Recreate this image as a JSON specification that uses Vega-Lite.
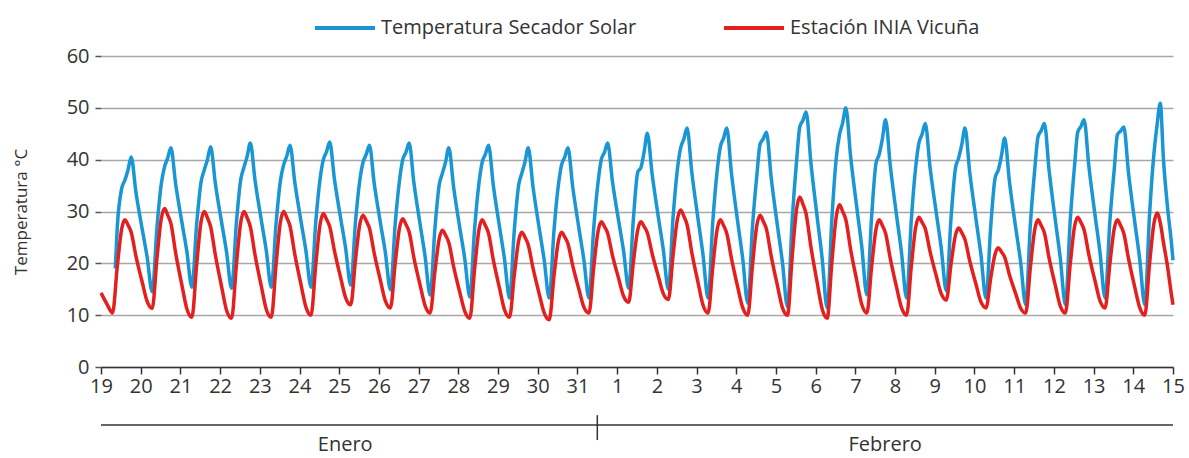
{
"$schema": "https://vega.github.io/schema/vega-lite/v6.json",
"width": 1072, "height": 311,
"autosize": "none",
"padding": {"left": 101, "top": 56, "right": 16, "bottom": 91},
"background": "white",
"config": {"view": {"stroke": null}, "font": "Open Sans",
  "axisX": {"grid": false, "domainColor": "#333333", "domainWidth": 1.5, "tickColor": "#333333", "tickSize": 7, "tickWidth": 1.5,
    "labelFontSize": 20, "labelColor": "#333333", "labelPadding": 2, "labelFlush": false, "labelOverlap": false, "labelFont": "Open Sans"},
  "axisY": {"grid": true, "gridColor": "#a8a8a8", "gridWidth": 1.5, "domain": false,
    "tickSize": 6, "tickColor": "#555555", "tickWidth": 1.5, "labelFontSize": 20, "labelColor": "#333333", "labelPadding": 6, "labelFont": "Open Sans",
    "titleFontSize": 17, "titleColor": "#333333", "titleFontWeight": "normal", "titlePadding": 36, "titleFont": "Open Sans"}},
"data": {"values": [
{"t":0,"r":14.3},{"t":0.16,"r":12.0},{"t":0.29,"r":10.4},{"t":0.36,"s":19},
{"t":0.41,"s":27.0,"r":19.4},{"t":0.52,"s":34.4,"r":26.6},{"t":0.6,"s":36,"r":28.4},{"t":0.68,"s":38.0,"r":27.4},{"t":0.76,"s":40.5,"r":26.0},{"t":0.88,"s":33.7,"r":21.4},
{"t":1.04,"s":26.5,"r":16.3},{"t":1.16,"s":21.3,"r":12.7},{"t":1.29,"s":14.5,"r":11.3},{"t":1.41,"s":27.0,"r":21.0},{"t":1.52,"s":35.4,"r":28.7},{"t":1.6,"s":38.6,"r":30.6},{"t":1.68,"s":40.3,"r":29.3},{"t":1.76,"s":42.3,"r":27.7},{"t":1.88,"s":35.3,"r":22.0},
{"t":2.04,"s":27.8,"r":15.7},{"t":2.16,"s":22.4,"r":11.3},{"t":2.29,"s":15.4,"r":9.6},{"t":2.41,"s":27.6,"r":19.8},{"t":2.52,"s":35.7,"r":28.0},{"t":2.6,"s":38.0,"r":30.0},{"t":2.68,"s":40.0,"r":28.8},{"t":2.76,"s":42.5,"r":27.1},{"t":2.88,"s":35.4,"r":21.6},
{"t":3.04,"s":27.8,"r":15.4},{"t":3.16,"s":22.3,"r":11.0},{"t":3.29,"s":15.2,"r":9.4},{"t":3.41,"s":27.8,"r":19.7},{"t":3.52,"s":36.2,"r":27.9},{"t":3.6,"s":38.5,"r":30.0},{"t":3.68,"s":40.6,"r":28.8},{"t":3.76,"s":43.2,"r":27.1},{"t":3.88,"s":36.0,"r":21.6},
{"t":4.04,"s":28.2,"r":15.5},{"t":4.16,"s":22.6,"r":11.2},{"t":4.29,"s":15.4,"r":9.6},{"t":4.41,"s":27.7,"r":19.8},{"t":4.52,"s":36.0,"r":28.0},{"t":4.6,"s":39.0,"r":30.0},{"t":4.68,"s":40.7,"r":28.8},{"t":4.76,"s":42.8,"r":27.2},{"t":4.88,"s":35.7,"r":21.8},
{"t":5.04,"s":28.0,"r":15.8},{"t":5.16,"s":22.5,"r":11.6},{"t":5.29,"s":15.4,"r":10.0},{"t":5.41,"s":28.0,"r":19.8},{"t":5.52,"s":36.4,"r":27.6},{"t":5.6,"s":40.0,"r":29.6},{"t":5.68,"s":41.5,"r":28.5},{"t":5.76,"s":43.4,"r":27.1},{"t":5.88,"s":36.2,"r":22.4},
{"t":6.04,"s":28.5,"r":17.1},{"t":6.16,"s":23.0,"r":13.4},{"t":6.29,"s":15.8,"r":12.0},{"t":6.41,"s":28.0,"r":20.7},{"t":6.52,"s":36.1,"r":27.6},{"t":6.6,"s":39.5,"r":29.3},{"t":6.68,"s":41.0,"r":28.2},{"t":6.76,"s":42.8,"r":26.8},{"t":6.88,"s":35.5,"r":22.0},
{"t":7.04,"s":27.7,"r":16.6},{"t":7.16,"s":22.2,"r":12.8},{"t":7.29,"s":14.9,"r":11.4},{"t":7.41,"s":27.6,"r":20.0},{"t":7.52,"s":36.1,"r":26.9},{"t":7.6,"s":40.0,"r":28.6},{"t":7.68,"s":41.4,"r":27.5},{"t":7.76,"s":43.2,"r":26.1},{"t":7.88,"s":35.6,"r":21.1},
{"t":8.04,"s":27.4,"r":15.7},{"t":8.16,"s":21.5,"r":11.9},{"t":8.29,"s":13.9,"r":10.4},{"t":8.41,"s":26.7,"r":18.4},{"t":8.52,"s":35.2,"r":24.8},{"t":8.6,"s":37.4,"r":26.4},{"t":8.68,"s":39.6,"r":25.4},{"t":8.76,"s":42.3,"r":24.0},{"t":8.88,"s":34.8,"r":19.4},
{"t":9.04,"s":26.7,"r":14.3},{"t":9.16,"s":21.0,"r":10.8},{"t":9.29,"s":13.5,"r":9.4},{"t":9.41,"s":26.7,"r":18.9},{"t":9.52,"s":35.5,"r":26.5},{"t":9.6,"s":39.5,"r":28.4},{"t":9.68,"s":41.0,"r":27.3},{"t":9.76,"s":42.8,"r":25.8},{"t":9.88,"s":35.1,"r":20.7},
{"t":10.04,"s":26.9,"r":15.1},{"t":10.16,"s":21.0,"r":11.1},{"t":10.29,"s":13.3,"r":9.6},{"t":10.41,"s":26.4,"r":17.8},{"t":10.52,"s":35.1,"r":24.4},{"t":10.6,"s":37.4,"r":26.0},{"t":10.68,"s":39.6,"r":25.0},{"t":10.76,"s":42.3,"r":23.6},{"t":10.88,"s":34.8,"r":19.1},
{"t":11.04,"s":26.6,"r":14.0},{"t":11.16,"s":20.8,"r":10.5},{"t":11.29,"s":13.3,"r":9.1},{"t":11.41,"s":26.4,"r":17.6},{"t":11.52,"s":35.1,"r":24.3},{"t":11.6,"s":39.0,"r":26.0},{"t":11.68,"s":40.5,"r":25.1},{"t":11.76,"s":42.3,"r":23.8},{"t":11.88,"s":34.8,"r":19.6},
{"t":12.04,"s":26.6,"r":14.9},{"t":12.16,"s":20.8,"r":11.6},{"t":12.29,"s":13.3,"r":10.4},{"t":12.41,"s":26.8,"r":19.2},{"t":12.52,"s":35.7,"r":26.2},{"t":12.6,"s":40.0,"r":28.0},{"t":12.68,"s":41.4,"r":27.1},{"t":12.76,"s":43.2,"r":25.8},{"t":12.88,"s":35.9,"r":21.6},
{"t":13.04,"s":28.1,"r":17.0},{"t":13.16,"s":22.5,"r":13.7},{"t":13.29,"s":15.2,"r":12.5},{"t":13.41,"s":28.7,"r":20.3},{"t":13.52,"s":37.6,"r":26.5},{"t":13.6,"s":38.5,"r":28.0},{"t":13.68,"s":41.5,"r":27.1},{"t":13.76,"s":45.1,"r":25.9},{"t":13.88,"s":37.3,"r":21.9},
{"t":14.04,"s":28.8,"r":17.4},{"t":14.16,"s":22.8,"r":14.2},{"t":14.29,"s":15.0,"r":13.0},{"t":14.41,"s":29.0,"r":21.7},{"t":14.52,"s":38.3,"r":28.6},{"t":14.6,"s":42.3,"r":30.3},{"t":14.68,"s":44.0,"r":29.1},{"t":14.76,"s":46.1,"r":27.5},{"t":14.88,"s":37.6,"r":22.1},
{"t":15.04,"s":28.4,"r":16.2},{"t":15.16,"s":21.8,"r":12.0},{"t":15.29,"s":13.3,"r":10.4},{"t":15.41,"s":28.1,"r":19.4},{"t":15.52,"s":37.9,"r":26.6},{"t":15.6,"s":42.5,"r":28.4},{"t":15.68,"s":44.1,"r":27.3},{"t":15.76,"s":46.1,"r":25.8},{"t":15.88,"s":37.3,"r":20.9},
{"t":16.04,"s":27.8,"r":15.3},{"t":16.16,"s":21.1,"r":11.5},{"t":16.29,"s":12.3,"r":10.0},{"t":16.41,"s":27.2,"r":19.7},{"t":16.52,"s":37.1,"r":27.4},{"t":16.6,"s":43.0,"r":29.3},{"t":16.68,"s":44.0,"r":28.1},{"t":16.76,"s":45.3,"r":26.6},{"t":16.88,"s":36.5,"r":21.4},
{"t":17.04,"s":27.1,"r":15.6},{"t":17.16,"s":20.4,"r":11.5},{"t":17.29,"s":11.6,"r":10.0},{"t":17.41,"s":28.5,"r":21.4},{"t":17.52,"s":39.8,"r":30.5},{"t":17.6,"s":46.3,"r":32.8},{"t":17.68,"s":47.6,"r":31.4},{"t":17.76,"s":49.2,"r":29.5},{"t":17.88,"s":39.4,"r":23.2},
{"t":18.04,"s":28.8,"r":16.2},{"t":18.16,"s":21.2,"r":11.3},{"t":18.29,"s":11.4,"r":9.4},{"t":18.41,"s":28.8,"r":20.4},{"t":18.52,"s":40.4,"r":29.1},{"t":18.6,"s":44.8,"r":31.3},{"t":18.68,"s":47.1,"r":30.0},{"t":18.76,"s":50.0,"r":28.4},{"t":18.88,"s":40.6,"r":22.7},
{"t":19.04,"s":30.5,"r":16.5},{"t":19.16,"s":23.3,"r":12.1},{"t":19.29,"s":13.9,"r":10.4},{"t":19.41,"s":29.1,"r":19.4},{"t":19.52,"s":39.3,"r":26.6},{"t":19.6,"s":41.0,"r":28.4},{"t":19.68,"s":44.0,"r":27.3},{"t":19.76,"s":47.7,"r":25.8},{"t":19.88,"s":38.8,"r":20.9},
{"t":20.04,"s":29.1,"r":15.3},{"t":20.16,"s":22.2,"r":11.5},{"t":20.29,"s":13.3,"r":10.0},{"t":20.41,"s":28.5,"r":19.5},{"t":20.52,"s":38.6,"r":27.0},{"t":20.6,"s":43.2,"r":28.9},{"t":20.68,"s":44.9,"r":27.9},{"t":20.76,"s":47.0,"r":26.7},{"t":20.88,"s":38.6,"r":22.3},
{"t":21.04,"s":29.6,"r":17.5},{"t":21.16,"s":23.1,"r":14.2},{"t":21.29,"s":14.7,"r":12.9},{"t":21.41,"s":28.8,"r":19.9},{"t":21.52,"s":38.3,"r":25.4},{"t":21.6,"s":40.3,"r":26.8},{"t":21.68,"s":42.9,"r":25.9},{"t":21.76,"s":46.1,"r":24.6},{"t":21.88,"s":37.6,"r":20.5},
{"t":22.04,"s":28.4,"r":15.9},{"t":22.16,"s":21.8,"r":12.6},{"t":22.29,"s":13.3,"r":11.4},{"t":22.41,"s":27.2,"r":17.2},{"t":22.52,"s":36.5,"r":21.8},{"t":22.6,"s":38.0,"r":23.0},{"t":22.68,"s":40.8,"r":22.2},{"t":22.76,"s":44.2,"r":21.2},{"t":22.88,"s":35.8,"r":17.8},
{"t":23.04,"s":26.8,"r":14.1},{"t":23.16,"s":20.4,"r":11.4},{"t":23.29,"s":12.0,"r":10.4},{"t":23.41,"s":27.8,"r":19.4},{"t":23.52,"s":38.3,"r":26.6},{"t":23.6,"s":44.4,"r":28.4},{"t":23.68,"s":45.6,"r":27.3},{"t":23.76,"s":47.0,"r":25.9},{"t":23.88,"s":37.9,"r":21.0},
{"t":24.04,"s":28.1,"r":15.6},{"t":24.16,"s":21.1,"r":11.8},{"t":24.29,"s":12.0,"r":10.4},{"t":24.41,"s":28.1,"r":19.7},{"t":24.52,"s":38.8,"r":27.1},{"t":24.6,"s":45.3,"r":28.9},{"t":24.68,"s":46.4,"r":27.9},{"t":24.76,"s":47.7,"r":26.5},{"t":24.88,"s":38.8,"r":21.7},
{"t":25.04,"s":29.1,"r":16.5},{"t":25.16,"s":22.2,"r":12.8},{"t":25.29,"s":13.3,"r":11.4},{"t":25.41,"s":28.2,"r":19.9},{"t":25.52,"s":38.1,"r":26.7},{"t":25.6,"s":44.8,"r":28.4},{"t":25.68,"s":45.5,"r":27.3},{"t":25.76,"s":46.3,"r":25.8},{"t":25.88,"s":37.4,"r":20.9},
{"t":26.04,"s":27.8,"r":15.3},{"t":26.16,"s":20.9,"r":11.5},{"t":26.29,"s":12.0,"r":10.0},{"t":26.41,"s":29.5,"r":19.9},{"t":26.52,"s":41.2,"r":27.7},{"t":26.6,"s":46.8,"r":29.7},{"t":26.68,"s":50.9,"r":27.8},{"t":26.76,"s":40.0,"r":24.0},{"t":26.86,"s":31.0,"r":19.5},{"t":26.96,"s":24.0,"r":14.0},{"t":27,"s":20.6,"r":12.0}
]},
"layer": [
  {"transform": [{"filter": "isValid(datum.s)"}],
   "mark": {"type": "line", "strokeWidth": 3.5, "strokeJoin": "round", "interpolate": "monotone"},
   "encoding": {
     "x": {"field": "t", "type": "quantitative", "title": null,
       "scale": {"domain": [0, 27], "nice": false, "zero": false},
       "axis": {"values": [0,1,2,3,4,5,6,7,8,9,10,11,12,13,14,15,16,17,18,19,20,21,22,23,24,25,26,27],
         "labelExpr": "datum.value < 13 ? datum.value + 19 : datum.value - 12"}},
     "y": {"field": "s", "type": "quantitative", "title": "Temperatura °C",
       "scale": {"domain": [0, 60], "nice": false},
       "axis": {"values": [0,10,20,30,40,50,60]}},
     "color": {"datum": "Temperatura Secador Solar",
       "scale": {"domain": ["Temperatura Secador Solar", "Estación INIA Vicuña"], "range": ["#1a96d4", "#e4201f"]},
       "legend": {"orient": "none", "legendX": 212, "legendY": -60, "direction": "horizontal", "title": null,
         "symbolType": "stroke", "symbolSize": 3600, "symbolStrokeWidth": 4, "labelFontSize": 20, "labelColor": "#333333", "labelLimit": 500,
         "labelFont": "Open Sans", "columnPadding": 79, "labelOffset": 4, "padding": 0}}
   }},
  {"transform": [{"filter": "isValid(datum.r)"}],
   "mark": {"type": "line", "strokeWidth": 3.5, "strokeJoin": "round", "interpolate": "monotone"},
   "encoding": {
     "x": {"field": "t", "type": "quantitative", "title": null,
       "axis": {"values": [0,1,2,3,4,5,6,7,8,9,10,11,12,13,14,15,16,17,18,19,20,21,22,23,24,25,26,27],
         "labelExpr": "datum.value < 13 ? datum.value + 19 : datum.value - 12"}},
     "y": {"field": "r", "type": "quantitative", "title": "Temperatura °C", "axis": {"values": [0,10,20,30,40,50,60]}},
     "color": {"datum": "Estación INIA Vicuña"}
   }},
  {"data": {"values": [{"a": 1}]},
   "mark": {"type": "rule", "clip": false, "color": "#333333", "strokeWidth": 1.5},
   "encoding": {"x": {"datum": 0, "type": "quantitative", "title": null,
       "axis": {"values": [0,1,2,3,4,5,6,7,8,9,10,11,12,13,14,15,16,17,18,19,20,21,22,23,24,25,26,27],
         "labelExpr": "datum.value < 13 ? datum.value + 19 : datum.value - 12"}},
     "x2": {"datum": 27}, "y": {"datum": -11.2, "type": "quantitative", "title": "Temperatura °C", "axis": {"values": [0,10,20,30,40,50,60]}}}},
  {"data": {"values": [{"a": 1}]},
   "mark": {"type": "rule", "clip": false, "color": "#333333", "strokeWidth": 1.5},
   "encoding": {"x": {"datum": 12.5, "type": "quantitative", "title": null,
       "axis": {"values": [0,1,2,3,4,5,6,7,8,9,10,11,12,13,14,15,16,17,18,19,20,21,22,23,24,25,26,27],
         "labelExpr": "datum.value < 13 ? datum.value + 19 : datum.value - 12"}},
     "y": {"datum": -9.3, "type": "quantitative", "title": "Temperatura °C", "axis": {"values": [0,10,20,30,40,50,60]}}, "y2": {"datum": -14.1}}},
  {"data": {"values": [{"a": 1}]},
   "mark": {"type": "text", "clip": false, "text": "Enero", "fontSize": 20, "color": "#333333", "baseline": "middle", "align": "center", "font": "Open Sans"},
   "encoding": {"x": {"datum": 6.15, "type": "quantitative", "title": null,
       "axis": {"values": [0,1,2,3,4,5,6,7,8,9,10,11,12,13,14,15,16,17,18,19,20,21,22,23,24,25,26,27],
         "labelExpr": "datum.value < 13 ? datum.value + 19 : datum.value - 12"}},
     "y": {"datum": -15.1, "type": "quantitative", "title": "Temperatura °C", "axis": {"values": [0,10,20,30,40,50,60]}}}},
  {"data": {"values": [{"a": 1}]},
   "mark": {"type": "text", "clip": false, "text": "Febrero", "fontSize": 20, "color": "#333333", "baseline": "middle", "align": "center", "font": "Open Sans"},
   "encoding": {"x": {"datum": 19.75, "type": "quantitative", "title": null,
       "axis": {"values": [0,1,2,3,4,5,6,7,8,9,10,11,12,13,14,15,16,17,18,19,20,21,22,23,24,25,26,27],
         "labelExpr": "datum.value < 13 ? datum.value + 19 : datum.value - 12"}},
     "y": {"datum": -15.1, "type": "quantitative", "title": "Temperatura °C", "axis": {"values": [0,10,20,30,40,50,60]}}}}
]
}
